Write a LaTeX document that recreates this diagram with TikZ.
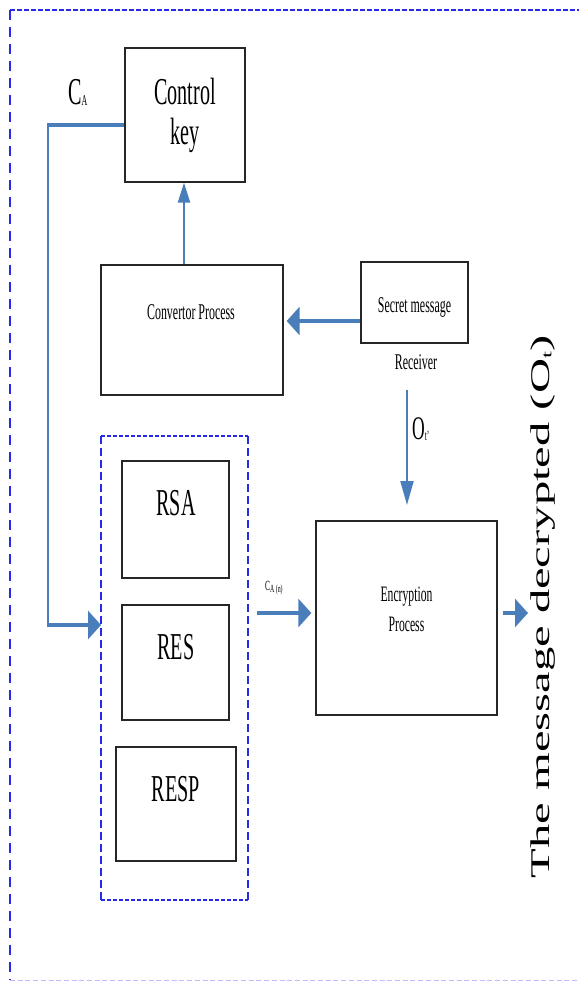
\documentclass[tikz,border=0pt]{standalone}
\usepackage{fontspec}
\setmainfont{Liberation Serif}
\newfontfamily\sqfont[FakeStretch=0.53]{Liberation Serif}
\newfontfamily\widefont[FakeStretch=1.8]{Liberation Serif}
\usetikzlibrary{arrows.meta}
\definecolor{lineblue}{RGB}{74,126,187}
\definecolor{frameblue}{RGB}{40,40,235}
\definecolor{framelight}{RGB}{190,190,250}
\begin{document}
\begin{tikzpicture}[x=1pt,y=-1pt,
  box/.style={draw=black!85, line width=1.3pt, inner sep=0pt},
  lbl/.style={inner sep=0pt, font=\sqfont},
  hline/.style={draw=lineblue, line width=3.2pt},
  vline/.style={draw=lineblue, line width=2.2pt},
  harrow/.style={hline, -{Triangle[length=13pt,width=28pt]}},
  varrow/.style={vline, -{Triangle[length=24pt,width=13pt]}},
]
\useasboundingbox (0,0) rectangle (579,981);
% outer frame
\draw[frameblue, line width=1.6pt, dash pattern=on 4.5pt off 2.5pt] (10,10) -- (579,10);
\draw[frameblue, line width=1.5pt, dash pattern=on 10pt off 7pt] (10,10) -- (10,980);
\draw[framelight, line width=1pt, dash pattern=on 5pt off 2.7pt] (10,980) -- (579,980);

% boxes
\node[box, minimum width=120pt, minimum height=134pt] (ck) at (185,115) {};
\node[lbl, align=center, font=\sqfont\fontsize{38}{40}\selectfont] (cktext) at (185,115) {Control\\key};

\node[box, minimum width=182pt, minimum height=130pt] (conv) at (192,330) {};
\node[lbl, font=\sqfont\fontsize{22.5}{24}\selectfont] (convtext) at (191,312) {Convertor Process};

\node[box, minimum width=107pt, minimum height=81pt] (sm) at (414.5,302.5) {};
\node[lbl, font=\sqfont\fontsize{22.5}{24}\selectfont] (smtext) at (414.5,307) {Secret message};
\node[lbl, font=\sqfont\fontsize{22.5}{24}\selectfont] (recv) at (416,362) {Receiver};

% dashed group
\draw[frameblue, line width=1.4pt, dash pattern=on 4pt off 2pt] (101,436) -- (248,436);
\draw[frameblue, line width=1.4pt, dash pattern=on 4pt off 2pt] (101,900) -- (248,900);
\draw[frameblue, line width=1.4pt, dash pattern=on 8pt off 4pt] (101,436) -- (101,900);
\draw[frameblue, line width=1.4pt, dash pattern=on 8pt off 4pt] (248,436) -- (248,900);
\node[inner sep=0pt, minimum width=147pt, minimum height=464pt] (grp) at (174.5,668) {};

\node[box, minimum width=107pt, minimum height=117pt] (rsa) at (175.5,519.5) {};
\node[lbl, font=\sqfont\fontsize{38}{40}\selectfont] (rsatext) at (176,503) {RSA};
\node[box, minimum width=107pt, minimum height=115pt] (res) at (175.5,662.5) {};
\node[lbl, font=\sqfont\fontsize{38}{40}\selectfont] (restext) at (176,647) {RES};
\node[box, minimum width=120pt, minimum height=114pt] (resp) at (176,804) {};
\node[lbl, font=\sqfont\fontsize{38}{40}\selectfont] (resptext) at (176,789) {RESP};

\node[box, minimum width=181pt, minimum height=194pt] (enc) at (406.5,618) {};
\node[lbl, align=center, font=\sqfont\fontsize{22}{30}\selectfont] (enctext) at (406.5,609) {Encryption\\Process};

% labels
\node[lbl, anchor=base west, font=\sqfont\fontsize{38}{40}\selectfont] (ca) at (68,105) {C\raisebox{-1pt}{\fontsize{15}{15}\selectfont A}};
\node[lbl, anchor=base west, font=\sqfont\fontsize{14}{14}\selectfont] (can) at (265,590) {C\raisebox{-2pt}{\fontsize{11}{11}\selectfont A (n)}};
\node[lbl, anchor=base west, font=\sqfont\fontsize{33}{33}\selectfont] (ot) at (412,439) {O\raisebox{-1pt}{\fontsize{14}{14}\selectfont t\textquoteright}};
\node[inner sep=0pt, rotate=90, font=\widefont\fontsize{27}{27}\selectfont] (msg) at (543,607) {The message decrypted (O\raisebox{-2pt}{\fontsize{14}{14}\selectfont t})};

% connectors
\coordinate (cabend) at (48,125);
\coordinate (cabot) at (48,625);
\coordinate (cain) at (101,625);
\draw[hline] ([yshift=-10pt]ck.west) -- ([xshift=-1.1pt]cabend);
\draw[vline] (cabend) -- (cabot);
\draw[harrow] ([xshift=-1.1pt]cabot) -- (cain);

\draw[varrow, -{Triangle[length=20pt,width=12pt]}] (conv.north -| 184,0) -- (ck.south -| 184,0);
\draw[harrow] ([yshift=-18.5pt]sm.west) -- ([xshift=3pt,yshift=9pt]conv.east);

\coordinate (otstart) at (407,390);
\coordinate (otend) at (407,505);
\draw[varrow] (otstart) -- (otend);

\coordinate (canstart) at (257,613);
\draw[harrow] (canstart) -- ([xshift=-4pt,yshift=5pt]enc.west);

\coordinate (outend) at (528,613);
\draw[harrow] ([xshift=5pt,yshift=5pt]enc.east) -- (outend);
\end{tikzpicture}
\end{document}
